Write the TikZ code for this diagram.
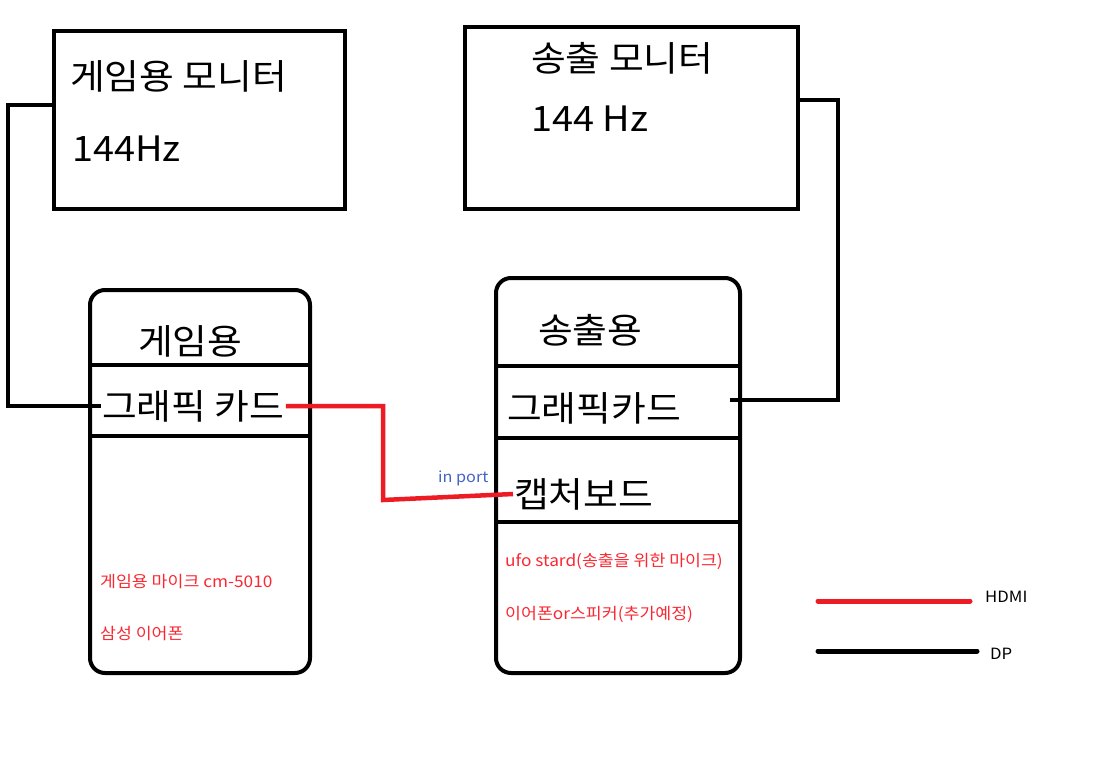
\documentclass[tikz,border=0pt]{standalone}
\usepackage{fontspec}
\setmainfont[FakeStretch=1.08]{Noto Sans CJK KR}
\definecolor{paintred}{RGB}{237,28,36}
\definecolor{txtred}{RGB}{250,40,50}
\definecolor{portblue}{RGB}{68,100,200}
\tikzset{
  frame/.style={draw, line width=4pt, rectangle, anchor=north west},
  pcframe/.style={frame, rounded corners=15pt},
  big/.style={anchor=west, inner sep=1pt, font=\fontsize{35}{40}\selectfont},
  small/.style={anchor=west, inner sep=1pt, text=txtred, font=\fontsize{16}{19}\selectfont},
  dp/.style={draw=black, line width=4pt},
  hdmi/.style={draw=paintred, line width=4.5pt},
}
\begin{document}
\begin{tikzpicture}[x=1pt,y=-1pt]
	\useasboundingbox[fill=white] (0,0) rectangle (1095,774);
	% monitors
	\node[frame, minimum width=291pt, minimum height=178pt] (mon1) at (52,29) {};
	\node[frame, minimum width=333pt, minimum height=182pt] (mon2) at (463,25) {};
	\node[big] (mon1name) at (69,76) {게임용 모니터};
	\node[big] (mon1hz) at (71,149) {144Hz};
	\node[big] (mon2name) at (530,58) {송출 모니터};
	\node[big] (mon2hz) at (530,119) {144 Hz};
	% computers
	\node[pcframe, minimum width=220pt, minimum height=383pt] (pc1) at (88,288) {};
	\node[pcframe, minimum width=244pt, minimum height=395pt] (pc2) at (494,276) {};
	\draw[line width=4pt] (pc1.west|-0,365) -- (pc1.east|-0,365);
	\draw[line width=4pt] (pc1.west|-0,436) -- (pc1.east|-0,436);
	\draw[line width=4pt] (pc2.west|-0,366) -- (pc2.east|-0,366);
	\draw[line width=4pt] (pc2.west|-0,438) -- (pc2.east|-0,438);
	\draw[line width=4pt] (pc2.west|-0,522) -- (pc2.east|-0,522);
	\node[big] (pc1name) at (137,341) {게임용};
	\node[big] (gpu1) at (101,406) {그래픽 카드};
	\node[big] (pc2name) at (537,330) {송출용};
	\node[big] (gpu2) at (506,408) {그래픽카드};
	\node[big] (cap) at (513,494) {캡처보드};
	\node[small] (mic1) at (99,582) {게임용 마이크 cm-5010};
	\node[small] (ear1) at (99,634) {삼성 이어폰};
	\node[small] (mic2) at (504,561) {ufo stard(송출을 위한 마이크)};
	\node[small] (ear2) at (504,614) {이어폰or스피커(추가예정)};
	\node[anchor=west, inner sep=1pt, text=portblue, font=\fontsize{15}{17}\selectfont] (inport) at (437,478) {in port};
	% cables
	\coordinate (lbend) at (8,105);
	\coordinate (rbend) at (838,100);
	\coordinate (gpu2port) at (730,400);
	\coordinate (hbend) at (383,500);
	\draw[dp] (mon1.west|-lbend) -- (lbend) |- (gpu1.west);
	\draw[dp] (mon2.east|-rbend) -- (rbend) |- (gpu2port);
	\draw[hdmi] (gpu1.east) -| (hbend) -- (cap.west);
	% legend
	\node[anchor=west, inner sep=1pt, font=\fontsize{15.5}{18}\selectfont] (hdmilbl) at (984,597) {HDMI};
	\node[anchor=west, inner sep=1pt, font=\fontsize{15.5}{18}\selectfont] (dplbl) at (989,654) {DP};
	\coordinate (hdmistart) at (818,601);
	\coordinate (dpstart) at (818,651);
	\draw[hdmi, line width=5pt, line cap=round] (hdmistart) -- (970,601);
	\draw[dp, line width=5pt, line cap=round] (dpstart) -- (977,651);
\end{tikzpicture}
\end{document}
